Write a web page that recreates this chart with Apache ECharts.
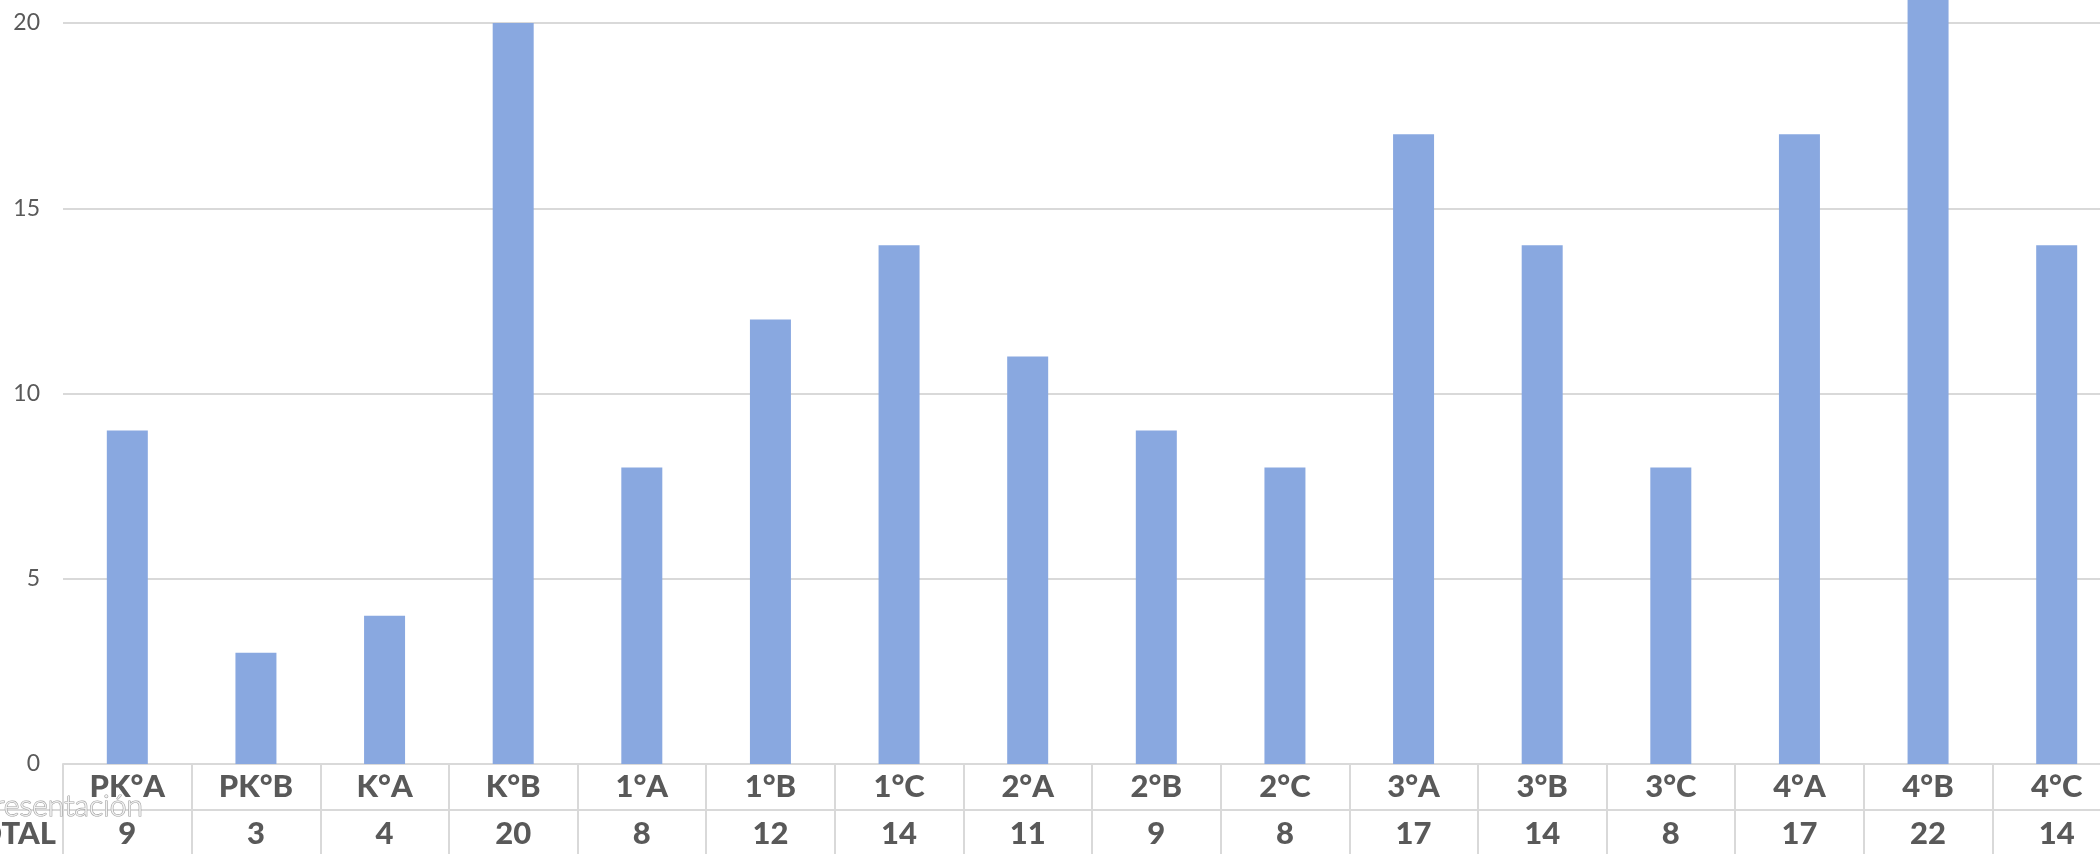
<!DOCTYPE html>
<html>
<head>
<meta charset="utf-8">
<script src="https://cdn.jsdelivr.net/npm/echarts@6/dist/echarts.min.js"></script>
<style>
html,body{margin:0;padding:0;background:#fff;overflow:hidden;width:2100px;height:854px;}
#c{width:2121px;height:854px;}
</style>
</head>
<body>
<div id="c"></div>
<script>
var categories = ['PK°A','PK°B','K°A','K°B','1°A','1°B','1°C','2°A','2°B','2°C','3°A','3°B','3°C','4°A','4°B','4°C'];
var totals = [9,3,4,20,8,12,14,11,9,8,17,14,8,17,22,14];
var yTicks = [0,5,10,15,20];
var rowLabel = 'TOTAL';
var watermark = 'Presentación';

var chart = echarts.init(document.getElementById('c'), null, {renderer:'canvas'});
var gridColor = '#d9d9d9';
var textColor = '#595959';
chart.setOption({
  animation:false,
  backgroundColor:'#ffffff',
  grid:{left:63, top:23, height:741, right:0, containLabel:false},
  xAxis:[{
    type:'category',
    data:categories,
    position:'bottom',
    axisLine:{show:true, lineStyle:{color:gridColor, width:2}},
    axisTick:{show:true, length:100, lineStyle:{color:gridColor, width:2}},
    axisLabel:{margin:23, verticalAlign:'middle', fontFamily:'Lato', fontWeight:900, fontSize:31, color:textColor, interval:0}
  },{
    type:'category',
    data:totals.map(String),
    position:'bottom',
    offset:46,
    axisLine:{show:true, lineStyle:{color:gridColor, width:2}},
    axisTick:{show:false},
    axisLabel:{margin:24, verticalAlign:'middle', fontFamily:'Lato', fontWeight:900, fontSize:31, color:textColor, interval:0}
  }],
  yAxis:{
    type:'value', min:yTicks[0], max:yTicks[yTicks.length-1], interval:5,
    axisLine:{show:false}, axisTick:{show:false},
    splitLine:{lineStyle:{color:gridColor, width:2}},
    axisLabel:{margin:23, fontFamily:'Lato', fontSize:23, color:textColor}
  },
  series:[{
    type:'bar',
    data:totals,
    barWidth:41,
    clip:false,
    itemStyle:{color:'#89a8e0'}
  }],
  graphic:[
    {type:'line', shape:{x1:0, y1:810, x2:63, y2:810}, style:{stroke:gridColor, lineWidth:2}},
    {type:'text', x:56, y:834, style:{text:rowLabel, align:'right', verticalAlign:'middle', font:'900 31px Lato', fill:textColor}},
    {type:'text', x:143, y:806, z:100, style:{text:watermark, align:'right', verticalAlign:'middle', font:'300 30px Lato', fill:'#f2f2f2', stroke:'#a0a0a0', lineWidth:1.2, shadowColor:'rgba(0,0,0,0.3)', shadowBlur:2, shadowOffsetY:1}}
  ]
});
</script>
</body>
</html>
